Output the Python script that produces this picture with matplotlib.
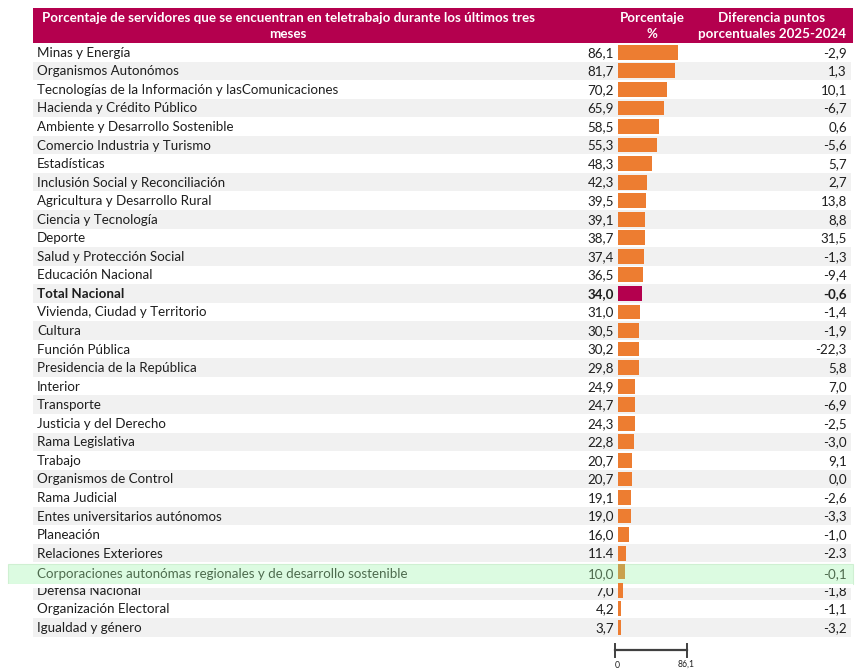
import matplotlib
matplotlib.use("Agg")
import matplotlib.pyplot as plt
from matplotlib.patches import Rectangle

names = [
    "Minas y Energía", "Organismos Autonómos",
    "Tecnologías de la Información y lasComunicaciones",
    "Hacienda y Crédito Público", "Ambiente y Desarrollo Sostenible",
    "Comercio Industria y Turismo", "Estadísticas",
    "Inclusión Social y Reconciliación", "Agricultura y Desarrollo Rural",
    "Ciencia y Tecnología", "Deporte", "Salud y Protección Social",
    "Educación Nacional", "Total Nacional", "Vivienda, Ciudad y Territorio",
    "Cultura", "Función Pública", "Presidencia de la República", "Interior",
    "Transporte", "Justicia y del Derecho", "Rama Legislativa", "Trabajo",
    "Organismos de Control", "Rama Judicial", "Entes universitarios autónomos",
    "Planeación", "Relaciones Exteriores",
    "Corporaciones autonómas regionales y de desarrollo sostenible",
    "Defensa Nacional", "Organización Electoral", "Igualdad y género",
]
pct = [86.1, 81.7, 70.2, 65.9, 58.5, 55.3, 48.3, 42.3, 39.5, 39.1, 38.7, 37.4,
       36.5, 34.0, 31.0, 30.5, 30.2, 29.8, 24.9, 24.7, 24.3, 22.8, 20.7, 20.7,
       19.1, 19.0, 16.0, 11.4, 10.0, 7.0, 4.2, 3.7]
diff = [-2.9, 1.3, 10.1, -6.7, 0.6, -5.6, 5.7, 2.7, 13.8, 8.8, 31.5, -1.3,
        -9.4, -0.6, -1.4, -1.9, -22.3, 5.8, 7.0, -6.9, -2.5, -3.0, 9.1, 0.0,
        -2.6, -3.3, -1.0, -2.3, -0.1, -1.8, -1.1, -3.2]
header_col1 = "Porcentaje de servidores que se encuentran en teletrabajo durante los últimos tres\nmeses"
header_col2 = "Porcentaje\n%"
header_col3 = "Diferencia puntos\nporcentuales 2025-2024"
total_name = "Total Nacional"
highlight_name = "Corporaciones autonómas regionales y de desarrollo sostenible"
dot_sep_name = "Relaciones Exteriores"
scale_labels = ["0", "86,1"]

W, H = 861, 671
plt.rcParams['font.family'] = ['Lato', 'DejaVu Sans']
fig = plt.figure(figsize=(W / 100, H / 100), dpi=100)
ax = fig.add_axes([0, 0, 1, 1])
ax.set_xlim(0, W)
ax.set_ylim(H, 0)
ax.axis('off')

CRIMSON = '#B4004E'
ORANGE = '#ED7D31'
TXT = '#1E1E1E'
FS = 9.6
n = len(names)
top0 = 43.0
rh = 18.55
x_left, x_right = 33, 851


def fmt(v, sep=','):
    return f"{v:.1f}".replace('.', sep)


# header
ax.add_patch(Rectangle((x_left, 8), x_right + 2 - x_left, top0 - 8, color=CRIMSON, lw=0))
ax.text(288, 26, header_col1, ha='center', va='center', color='white',
        fontsize=FS, fontweight='bold', linespacing=1.35)
ax.text(652, 26, header_col2, ha='center', va='center', color='white',
        fontsize=FS, fontweight='bold', linespacing=1.35)
ax.text(772, 26, header_col3, ha='center', va='center', color='white',
        fontsize=FS, fontweight='bold', linespacing=1.35)

# rows
for i, (nm, p, d) in enumerate(zip(names, pct, diff)):
    top = top0 + i * rh
    cy = top + rh / 2 + 0.5
    if i % 2 == 1:
        ax.add_patch(Rectangle((x_left, top), x_right - x_left, rh, color='#F1F1F1', lw=0))
    if nm == highlight_name:
        continue
    bold = 'bold' if nm == total_name else 'normal'
    sep = '.' if nm == dot_sep_name else ','
    ax.text(37, cy, nm, ha='left', va='center', fontsize=FS, color=TXT, fontweight=bold)
    ax.text(614, cy, fmt(p, sep), ha='right', va='center', fontsize=FS, color=TXT, fontweight=bold)
    ax.text(847, cy, fmt(d, sep), ha='right', va='center', fontsize=FS, color=TXT, fontweight=bold)

# bars
bax = fig.add_axes([618 / W, 1 - (top0 + n * rh) / H, 60 / W, n * rh / H])
bax.set_xlim(0, max(pct))
bax.set_ylim(n - 0.5, -0.5)
bax.axis('off')
bax.patch.set_alpha(0)
colors = []
for nm in names:
    if nm == total_name:
        colors.append(CRIMSON)
    elif nm == highlight_name:
        colors.append('#C9A04E')
    else:
        colors.append(ORANGE)
bax.barh(range(n), pct, height=0.8, color=colors, edgecolor='none')

# highlighted row overlay
hi = names.index(highlight_name)
htop = top0 + hi * rh
ax.add_patch(Rectangle((8, htop + 1.5), 845, rh + 1.5, facecolor='#DAFBDF', alpha=0.93,
                       edgecolor='#CDEFD0', lw=0.8, zorder=3))
bax.set_zorder(4)
ax.set_zorder(3)
hcy = htop + rh / 2 + 2
ax.text(37, hcy, highlight_name, ha='left', va='center', fontsize=FS, color='#4E6B4E', zorder=5)
ax.text(614, hcy, fmt(pct[hi]), ha='right', va='center', fontsize=FS, color='#4E6B4E', zorder=5)
ax.text(847, hcy, fmt(diff[hi]), ha='right', va='center', fontsize=FS, color='#4E6B4E', zorder=5)
# gap strip clipping the top of the following row
ax.add_patch(Rectangle((8, htop + rh + 3.2), 845, 4.3, facecolor='white', lw=0, zorder=3.5))

# scale bar
ax.plot([615, 687], [650, 650], color='#404040', lw=1.6)
ax.plot([615, 615], [644, 657], color='#404040', lw=1.4)
ax.plot([687, 687], [644, 657], color='#404040', lw=1.4)
ax.text(617, 666, scale_labels[0], ha='center', va='center', fontsize=6.2, color=TXT)
ax.text(686, 664, scale_labels[1], ha='center', va='center', fontsize=6.2, color=TXT)

fig.savefig('out.png', dpi=100)
